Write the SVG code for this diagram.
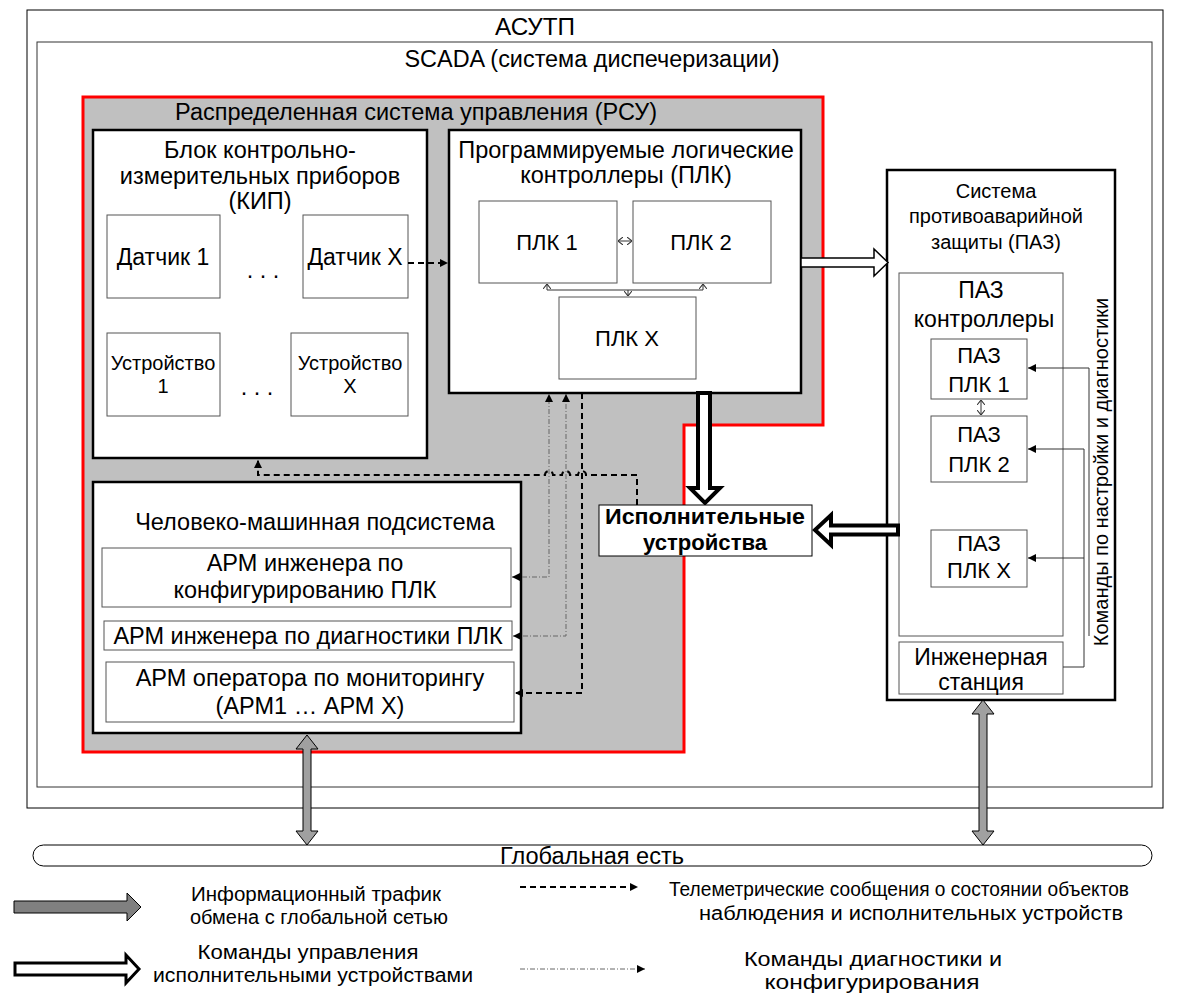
<svg xmlns="http://www.w3.org/2000/svg" width="1179" height="994" viewBox="0 0 1179 994">
<defs>
<style>
text{font-family:"Liberation Sans",Arial,sans-serif;font-size:23.5px;fill:#000;text-anchor:middle}
.s23{font-size:23px}
.s22{font-size:22px}
.s20{font-size:20px}
.b{font-weight:bold;font-size:22px}
.cn{font-size:23px}
.lg{font-size:20px}
.thick{fill:#fff;stroke:#000;stroke-width:2.5}
.thin{fill:#fff;stroke:#555;stroke-width:1}
.dash{fill:none;stroke:#000;stroke-width:2;stroke-dasharray:6 4}
.dd{fill:none;stroke:#666;stroke-width:1;stroke-dasharray:5 2 1 2}
.ln{fill:none;stroke:#333;stroke-width:1}
.sm{fill:none;stroke:#333;stroke-width:1}
.gray{fill:#a0a0a0;stroke:#000;stroke-width:1}
.hol{fill:#fff;stroke:#000;stroke-width:4;stroke-linejoin:miter}
</style>
<marker id="ah" viewBox="0 0 10 10" refX="10" refY="5" markerWidth="8" markerHeight="8" orient="auto-start-reverse" markerUnits="userSpaceOnUse"><path d="M0,0 L10,5 L0,10 z" fill="#000"/></marker>
<marker id="ov" viewBox="0 0 10 10" refX="10" refY="5" markerWidth="5" markerHeight="8" preserveAspectRatio="none" orient="auto-start-reverse" markerUnits="userSpaceOnUse"><path d="M0,0 L10,5 L0,10" fill="none" stroke="#333" stroke-width="1.5"/></marker>
</defs>

<g id="asutp">
<rect x="27" y="10" width="1136" height="798" fill="#fff" stroke="#000" stroke-width="1"/>
<text x="535" y="35" class="cn" textLength="80" lengthAdjust="spacingAndGlyphs">АСУТП</text>
</g>
<g id="scada">
<rect x="37" y="42" width="1115" height="745" fill="#fff" stroke="#333" stroke-width="1"/>
<text x="592" y="67" class="cn" textLength="375" lengthAdjust="spacingAndGlyphs">SCADA (система диспечеризации)</text>
</g>
<g id="rsu">
<polygon points="83,97 823,97 823,425 684,425 684,752 83,752" fill="#c0c0c0" stroke="#f00" stroke-width="3"/>
<text x="416" y="120">Распределенная система управления (РСУ)</text>
</g>

<g id="kip">
<rect x="93" y="130" width="334" height="328" class="thick"/>
<text x="260" y="158">Блок контрольно-</text>
<text x="260" y="184">измерительных приборов</text>
<text x="260" y="209">(КИП)</text>
</g>
<g id="sensor1"><rect x="107" y="215" width="113" height="83" class="thin"/><text x="163" y="265" class="s23">Датчик 1</text></g>
<g id="dots1"><text x="263" y="278">. . .</text></g>
<g id="sensorX"><rect x="303" y="215" width="105" height="83" class="thin"/><text x="355" y="265" class="s23">Датчик X</text></g>
<g id="dev1"><rect x="107" y="333" width="113" height="83" class="thin"/><text x="163" y="370" class="s20">Устройство</text><text x="163" y="393" class="s20">1</text></g>
<g id="dots2"><text x="257" y="395">. . .</text></g>
<g id="devX"><rect x="291" y="333" width="117" height="83" class="thin"/><text x="350" y="370" class="s20">Устройство</text><text x="350" y="393" class="s20">X</text></g>

<g id="plc">
<rect x="449" y="130" width="352" height="263" class="thick"/>
<text x="626" y="158">Программируемые логические</text>
<text x="626" y="183">контроллеры (ПЛК)</text>
</g>
<g id="plc1"><rect x="479" y="201" width="138" height="82" class="thin"/><text x="547" y="250" class="s22">ПЛК 1</text></g>
<g id="plc2"><rect x="633" y="201" width="138" height="82" class="thin"/><text x="701" y="250" class="s22">ПЛК 2</text></g>
<g id="plcX"><rect x="559" y="297" width="137" height="82" class="thin"/><text x="627" y="346" class="s22">ПЛК X</text></g>

<g id="paz">
<rect x="887" y="170" width="228" height="530" class="thick"/>
<text x="996" y="198" class="s20">Система</text>
<text x="996" y="223" class="s20">противоаварийной</text>
<text x="996" y="249" class="s20">защиты (ПАЗ)</text>
</g>
<g id="pazctl">
<rect x="899" y="273" width="164" height="363" class="thin"/>
<text x="981" y="298" class="s23">ПАЗ</text>
<text x="984" y="327" class="s23">контроллеры</text>
</g>
<g id="pazplc1"><rect x="931" y="339" width="96" height="60" class="thin"/><text x="979" y="363" class="s22">ПАЗ</text><text x="979" y="392" class="s22">ПЛК 1</text></g>
<g id="pazplc2"><rect x="931" y="416" width="96" height="66" class="thin"/><text x="979" y="442" class="s22">ПАЗ</text><text x="979" y="472" class="s22">ПЛК 2</text></g>
<g id="pazplcX"><rect x="931" y="530" width="96" height="57" class="thin"/><text x="979" y="551" class="s22">ПАЗ</text><text x="979" y="578" class="s22">ПЛК X</text></g>
<g id="engst"><rect x="899" y="642" width="164" height="52" class="thin"/><text x="981" y="665" class="s23">Инженерная</text><text x="981" y="690" class="s23">станция</text></g>
<g id="cmdlabel"><text x="1101" y="479" class="s20" transform="rotate(-90 1101 472)">Команды по настройки и диагностики</text></g>

<g id="hmi">
<rect x="93" y="482" width="428" height="251" class="thick"/>
<text x="315" y="530">Человеко-машинная подсистема</text>
</g>
<g id="arm1"><rect x="102" y="548" width="409" height="59" class="thin"/><text x="305" y="571">АРМ инженера по</text><text x="305" y="598">конфигурированию ПЛК</text></g>
<g id="arm2"><rect x="104" y="621" width="408" height="29" class="thin"/><text x="308" y="644">АРМ инженера по диагностики ПЛК</text></g>
<g id="arm3"><rect x="106" y="662" width="408" height="60" class="thin"/><text x="310" y="686">АРМ оператора по мониторингу</text><text x="310" y="714">(АРМ1 … АРМ Х)</text></g>

<g id="connectors">
<path d="M408,263 H448" class="dash" marker-end="url(#ah)"/>
<path d="M618,241 H632" class="sm" marker-start="url(#ov)" marker-end="url(#ov)"/>
<path d="M547,284 V290 H703 V284" class="sm" marker-start="url(#ov)" marker-end="url(#ov)"/>
<path d="M628,290 V296" class="sm" marker-end="url(#ov)"/>
<path d="M801,258 H874 V249 L888,262.5 L874,276 V267 H801 z" fill="#fff" stroke="#000" stroke-width="1.5"/>
<path d="M698,393 V488 H690 L705,503 L720,488 H710 V393 z" class="hol"/>
<path d="M898,525.5 H831 V515 L815,530 L831,545 V534.5 H898 z" class="hol"/>
<path d="M512,577 H549 V394" class="dd" marker-start="url(#ah)" marker-end="url(#ah)"/>
<path d="M513,636 H566 V394" class="dd" marker-start="url(#ah)" marker-end="url(#ah)"/>
<path d="M582,393 V693 H515" class="dash" marker-end="url(#ah)"/>
<path d="M637,505 V475 H586 a4,4 0 0 0 -8,0 H570 a4,4 0 0 0 -8,0 H553 a4,4 0 0 0 -8,0 H258 V460" class="dash" marker-end="url(#ah)"/>
<path d="M981,400 V415" class="sm" marker-start="url(#ov)" marker-end="url(#ov)"/>
<path d="M1089,636 V368 H1028" class="ln" marker-end="url(#ah)"/>
<path d="M1063,667 H1084 V449 H1028" class="ln" marker-end="url(#ah)"/>
<path d="M1084,558 H1028" class="ln" marker-end="url(#ah)"/>
<path d="M307,735 L318,749 H311 V831 H318 L307,845 L296,831 H303 V749 H296 z" class="gray"/>
<path d="M983,700 L994,714 H987 V831 H994 L983,845 L972,831 H979 V714 H972 z" class="gray"/>
</g>

<g id="executors">
<rect x="599" y="505" width="213" height="51" fill="#fff" stroke="#000" stroke-width="1"/>
<text x="705" y="524" class="b" textLength="200" lengthAdjust="spacingAndGlyphs">Исполнительные</text>
<text x="705" y="550" class="b" textLength="124" lengthAdjust="spacingAndGlyphs">устройства</text>
</g>

<g id="global">
<rect x="33" y="845" width="1119" height="21" rx="10.5" fill="#fff" stroke="#000" stroke-width="1"/>
<text x="592" y="864" class="cn" textLength="184" lengthAdjust="spacingAndGlyphs">Глобальная есть</text>
</g>

<g id="legend">
<path d="M14,901 H127 V893 L141,907 L127,921 V913 H14 z" fill="#808080" stroke="#000" stroke-width="1"/>
<text x="316" y="901" class="lg" textLength="250" lengthAdjust="spacingAndGlyphs">Информационный трафик</text>
<text x="319" y="924" class="lg" textLength="258" lengthAdjust="spacingAndGlyphs">обмена с глобальной сетью</text>
<path d="M15,963 H126 V955 L139,969 L126,983 V975 H15 z" fill="#fff" stroke="#000" stroke-width="3"/>
<text x="308" y="959" class="lg" textLength="221" lengthAdjust="spacingAndGlyphs">Команды управления</text>
<text x="313" y="982" class="lg" textLength="320" lengthAdjust="spacingAndGlyphs">исполнительными устройствами</text>
<path d="M520,887 H638" class="dash" stroke-width="1.5" marker-end="url(#ah)"/>
<text x="899" y="896" class="lg" textLength="460" lengthAdjust="spacingAndGlyphs">Телеметрические сообщения о состоянии объектов</text>
<text x="911" y="920" class="lg" textLength="424" lengthAdjust="spacingAndGlyphs">наблюдения и исполнительных устройств</text>
<path d="M520,969 H645" class="dd" marker-end="url(#ah)"/>
<text x="873" y="966" class="lg" textLength="258" lengthAdjust="spacingAndGlyphs">Команды диагностики и</text>
<text x="872" y="989" class="lg" textLength="215" lengthAdjust="spacingAndGlyphs">конфигурирования</text>
</g>
</svg>
